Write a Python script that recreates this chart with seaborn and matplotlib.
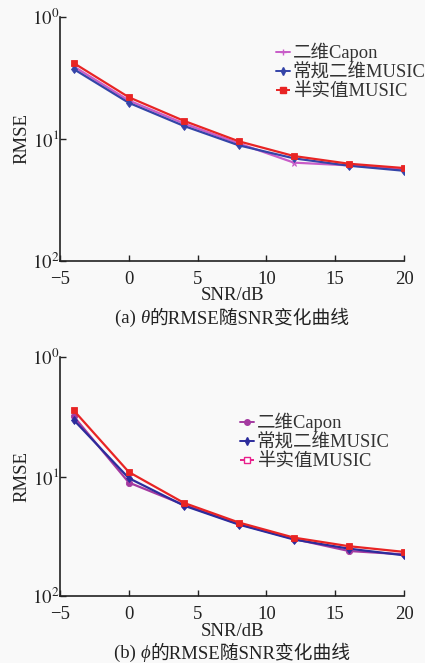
import numpy as np
import pandas as pd
import matplotlib
matplotlib.use("Agg")
import matplotlib.pyplot as plt
from matplotlib.lines import Line2D
from matplotlib.offsetbox import TextArea, HPacker, AnchoredOffsetbox
import seaborn as sns

# ---------------- data ----------------
snr = [-4, 0, 4, 8, 12, 16, 20]
series_names = ["二维Capon", "常规二维MUSIC", "半实值MUSIC"]

theta_capon = [0.393, 0.207, 0.134, 0.092, 0.064, 0.0608, 0.0563]
theta_music = [0.374, 0.198, 0.128, 0.0887, 0.0694, 0.0604, 0.0549]
theta_half = [0.419, 0.220, 0.141, 0.0957, 0.0725, 0.0627, 0.0578]

phi_capon = [0.318, 0.089, 0.058, 0.040, 0.030, 0.0238, 0.0223]
phi_music = [0.297, 0.0969, 0.0571, 0.0396, 0.0297, 0.0249, 0.0219]
phi_half = [0.357, 0.109, 0.0602, 0.0412, 0.0308, 0.0261, 0.0234]

xticks = [-5, 0, 5, 10, 15, 20]
xtick_labels = ["\u22125", "0", "5", "10", "15", "20"]
yticks = [1.0, 0.1, 0.01]
ytick_labels = [r"$10^{0}$", r"$10^{1}$", r"$10^{2}$"]

caption_parts = [("(a) ", "θ", "的RMSE随SNR变化曲线"), ("(b) ", "ϕ", "的RMSE随SNR变化曲线")]

# ---------------- style ----------------
sns.set_theme(style="ticks")
fam = ["Liberation Serif", "Noto Sans CJK SC", "DejaVu Sans"]
plt.rcParams["font.family"] = fam
plt.rcParams["mathtext.fontset"] = "stix"
plt.rcParams["axes.unicode_minus"] = True

bg = "#f9f9f9"
txt = "#222222"
fs = 13.5
lfs = 13.3

fig = plt.figure(figsize=(4.25, 6.63), dpi=100, facecolor=bg)

panels = [
    dict(rect=[60 / 425, 1 - 261 / 663, 344 / 425, 244 / 663],
         data=[theta_capon, theta_music, theta_half],
         colors=["#c85cc8", "#3444a8", "#e82424"],
         markers=["*", "d", "s"],
         leg_colors=["#c85cc8", "#3444a8", "#e82424"],
         leg_styles=["-", "-", "--"],
         leg_markers=["+", "d", "s"],
         leg_mfc=["#c85cc8", "#3444a8", "#e82424"],
         leg_anchor=(276 / 425, 1 - 43 / 663),
         xlab_y=1 - 296 / 663, cap_y=1 - 318 / 663),
    dict(rect=[60 / 425, 1 - 596 / 663, 344 / 425, 239 / 663],
         data=[phi_capon, phi_music, phi_half],
         colors=["#a43aa0", "#2c2c9c", "#e82424"],
         markers=["o", "d", "s"],
         leg_colors=["#a43aa0", "#2c2c9c", "#e8208c"],
         leg_styles=["-", "-", "--"],
         leg_markers=["o", "d", "s"],
         leg_mfc=["#a43aa0", "#2c2c9c", "white"],
         leg_anchor=(240 / 425, 1 - 413 / 663),
         xlab_y=1 - 632 / 663, cap_y=1 - 653 / 663),
]

for i, p in enumerate(panels):
    ax = fig.add_axes(p["rect"])
    ax.set_facecolor(bg)
    for name, vals, c, m in zip(series_names, p["data"], p["colors"], p["markers"]):
        df = pd.DataFrame({"SNR": snr, "RMSE": vals})
        sns.lineplot(data=df, x="SNR", y="RMSE", ax=ax, color=c, marker=m,
                     markersize=4.5, markeredgewidth=0.6, markeredgecolor=c,
                     linewidth=1.6, legend=False)
    ax.set_yscale("log")
    ax.set_ylim(0.01, 1.0)
    ax.set_xlim(-5, 20)
    ax.set_xticks(xticks)
    ax.set_xticklabels(xtick_labels)
    ax.set_yticks(yticks)
    ax.set_yticklabels(ytick_labels)
    ax.minorticks_off()
    ax.tick_params(direction="in", length=4, width=1.0, colors="#222222",
                   labelsize=fs, labelcolor=txt)
    ax.tick_params(axis="x", pad=7)
    ax.tick_params(axis="y", pad=0.5)
    for s in ["top", "right"]:
        ax.spines[s].set_visible(False)
    for s in ["left", "bottom"]:
        ax.spines[s].set_color("#222222")
        ax.spines[s].set_linewidth(1.2)
    ax.set_xlabel("")
    ax.set_ylabel("RMSE", fontsize=fs, color=txt)
    ax.yaxis.set_label_coords((30 - 60) / 344, 0.5)

    handles = [Line2D([0], [0], color=c, linestyle=ls, marker=mk, markersize=4,
                      markerfacecolor=mfc, markeredgecolor=c, linewidth=1.4)
               for c, ls, mk, mfc in zip(p["leg_colors"], p["leg_styles"],
                                          p["leg_markers"], p["leg_mfc"])]
    fig.legend(handles, series_names, loc="upper left", bbox_to_anchor=p["leg_anchor"],
               frameon=False, fontsize=lfs, handlelength=0.75, handletextpad=0.15,
               labelspacing=0.1, borderpad=0, borderaxespad=0, labelcolor="#333333")

    cx = p["rect"][0] + p["rect"][2] / 2
    fig.text(cx, p["xlab_y"], "SNR/dB", ha="center", va="center", fontsize=fs, color=txt)

    a, sym, rest = caption_parts[i]
    tp = dict(fontsize=fs, color=txt, family=fam)
    box = HPacker(children=[TextArea(a, textprops=tp),
                            TextArea(sym, textprops=dict(tp, style="italic")),
                            TextArea(rest, textprops=tp)],
                  align="baseline", pad=0, sep=0)
    anch = AnchoredOffsetbox(loc="center", child=box, pad=0, borderpad=0,
                             frameon=False, bbox_to_anchor=(cx, p["cap_y"]),
                             bbox_transform=fig.transFigure)
    fig.add_artist(anch)

fig.savefig("out.png", dpi=100, facecolor=bg)
